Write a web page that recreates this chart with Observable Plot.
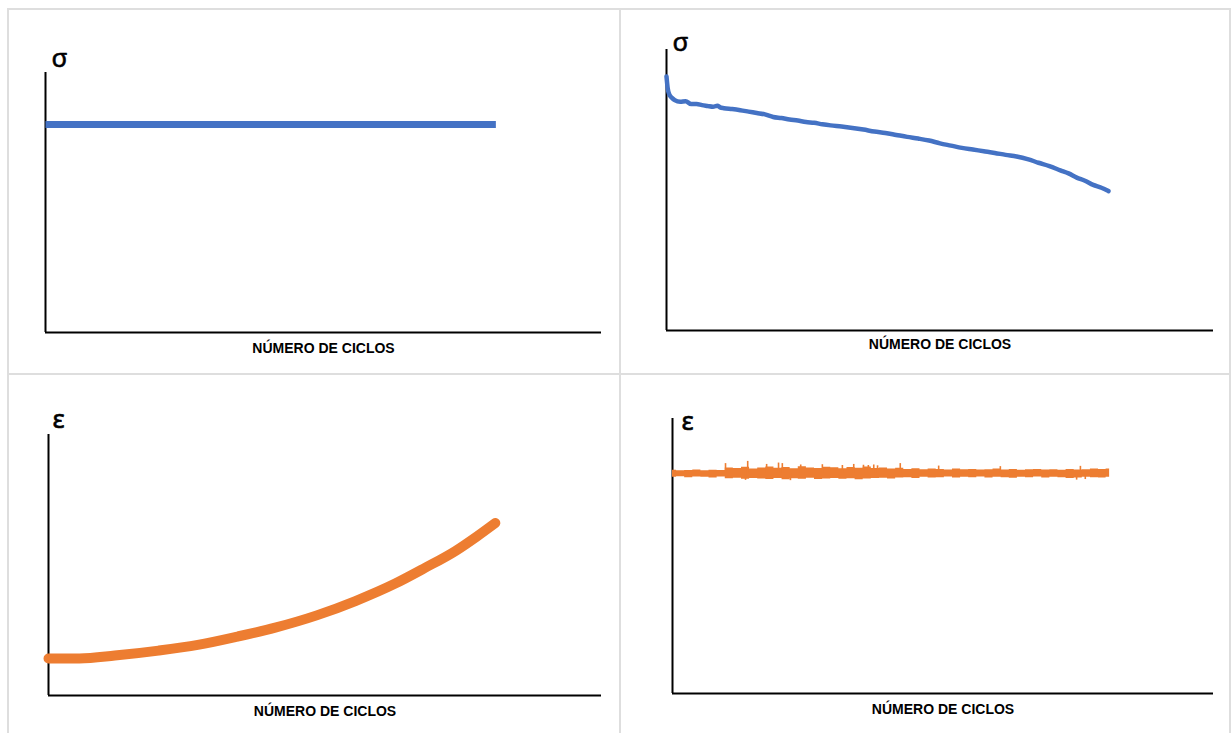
<!DOCTYPE html>
<html>
<head>
<meta charset="utf-8">
<script src="https://cdn.jsdelivr.net/npm/d3@7"></script>
<script src="https://cdn.jsdelivr.net/npm/@observablehq/plot@0.6"></script>
<style>
  html, body { margin: 0; padding: 0; background: #fff; }
  #wrap { position: relative; width: 1232px; height: 733px; overflow: hidden; background: #fff; }
  .cell { position: absolute; }
  .rule { position: absolute; background: #dedede; }
</style>
</head>
<body>
<div id="wrap"></div>
<script>
// ---------- data ----------
const xLabel = "NÚMERO DE CICLOS";
const sigmaSymbol = "σ";
const epsSymbol = "ε";

// Panel 1: constant stress (stress-controlled test)
const p1Cycles = [0, 81];
const p1Stress = [80, 80];

// Panel 2: decreasing stress (strain-controlled test)
const p2Cycles = [0, 0.2, 0.5, 1, 1.5, 2.5, 3.5, 4.5, 5.5, 6.5, 7.5, 8.5, 9.3, 9.8, 10.5, 12, 13.5, 15, 16.5, 18,
  19.5, 21, 22.5, 24, 25.5, 27, 28.5, 30, 32, 34, 36, 38, 40, 42, 44, 46, 48, 50, 52, 54, 56, 58, 60, 62, 64, 66,
  68, 70, 72, 73.5, 75, 76.5, 78, 79.5, 80.8];
const p2Stress = [90.4, 86.5, 84.0, 82.8, 82.0, 81.4, 81.6, 80.6, 80.6, 80.2, 79.9, 79.6, 80.0, 79.4, 79.1, 78.8, 78.4, 77.9, 77.4, 76.9,
  76.0, 75.6, 75.1, 74.7, 74.2, 73.9, 73.4, 73.0, 72.6, 72.1, 71.5, 70.8, 70.3, 69.6, 68.9, 68.3, 67.6, 66.6, 65.8, 65.0, 64.4, 63.8, 63.2, 62.5, 61.9, 61.0,
  59.7, 58.5, 57.0, 55.9, 54.4, 53.3, 51.8, 50.8, 49.6];

// Panel 3: increasing strain (stress-controlled test)
const p3Cycles = [0, 5.6, 12, 19.9, 27, 34.2, 41, 48.5, 55.5, 62.7, 68, 73.6, 77.5, 80.8];
const p3Strain = [14.2, 14.2, 15.3, 17.2, 19.4, 22.6, 26.0, 30.7, 36.2, 42.9, 48.8, 55.4, 61.0, 66.1];

// Panel 4: constant noisy strain (strain-controlled test): signal band (low/high) per cycle bin
const p4Cycles = [0, 1.5, 3, 4.5, 6, 7.5, 9, 10.5, 12, 13.5, 15, 16.5, 18, 19.5, 21, 22.5, 24, 25.5, 27, 28.5,
  30, 31.5, 33, 34.5, 36, 37.5, 39, 40.5, 42, 43.5, 45, 46.5, 48, 49.5, 51, 52.5, 54, 55.5, 57, 58.5,
  60, 61.5, 63, 64.5, 66, 67.5, 69, 70.5, 72, 73.5, 75, 76.5, 78, 79.5, 80.8];
const p4High = [81.2, 81.0, 81.1, 81.3, 81.0, 81.2, 81.1, 82.0, 81.8, 82.3, 81.6, 82.0, 82.4, 81.9, 82.2, 81.7, 82.5, 82.0, 81.8, 82.3,
  82.1, 81.7, 82.2, 81.9, 82.4, 81.8, 82.0, 81.6, 81.9, 81.5, 81.7, 81.4, 81.6, 81.5, 81.3, 81.6, 81.4, 81.5, 81.3, 81.4,
  81.6, 81.3, 81.5, 81.2, 81.4, 81.5, 81.3, 81.4, 81.2, 81.5, 81.3, 81.4, 81.6, 81.5, 81.6];
const p4Low = [78.6, 78.8, 78.5, 78.7, 78.6, 78.4, 78.7, 78.1, 78.3, 77.9, 78.2, 78.0, 77.8, 78.2, 77.7, 78.1, 77.9, 78.3, 77.8, 78.0,
  78.2, 77.9, 78.1, 77.7, 78.0, 78.2, 78.3, 78.0, 78.4, 78.5, 78.2, 78.6, 78.4, 78.5, 78.7, 78.4, 78.6, 78.5, 78.7, 78.4,
  78.6, 78.5, 78.3, 78.6, 78.5, 78.7, 78.4, 78.6, 78.5, 78.2, 78.4, 78.6, 78.5, 78.4, 78.6];
// Panel 4: isolated noise spikes
const p4SpikeCycles = [9.8, 13.5, 13.9, 17.4, 19.6, 20.3, 21.8, 23.7, 27.7, 31.4, 33.5, 35.3, 36.2, 37.2, 37.9, 42.1, 49.2, 60.6, 74.7, 75.4, 76.3];
const p4SpikeLow  = [80.0, 77.5, 80.0, 80.0, 80.0, 80.0, 77.4, 80.0, 80.0, 80.0, 80.0, 80.0, 80.0, 80.0, 80.0, 80.0, 80.0, 80.0, 77.6, 80.0, 77.8];
const p4SpikeHigh = [83.6, 80.0, 84.4, 83.3, 83.8, 83.6, 80.0, 83.1, 83.2, 82.9, 83.3, 83.0, 82.9, 83.1, 82.8, 83.6, 82.7, 82.5, 80.0, 82.6, 80.0];

// ---------- drawing ----------
const BLUE = "#4472C4", ORANGE = "#ED7D31";
const wrap = document.getElementById("wrap");

function rule(l, t, w, h) {
  const d = document.createElement("div");
  d.className = "rule";
  Object.assign(d.style, {left: l + "px", top: t + "px", width: w + "px", height: h + "px"});
  wrap.appendChild(d);
}

function panel(cfg) {
  const {left, top, width, height, m, xDomain, symbol, sdx, sdy, ldy, dataMarks} = cfg;
  const chart = Plot.plot({
    width, height,
    marginLeft: m[0], marginRight: m[1], marginTop: m[2], marginBottom: m[3],
    x: {domain: xDomain, axis: null},
    y: {domain: [0, 100], axis: null},
    style: {background: "transparent", overflow: "visible"},
    marks: [
      Plot.ruleX([0], {stroke: "#000", strokeWidth: 2}),
      Plot.ruleY([0], {stroke: "#000", strokeWidth: 2}),
      ...dataMarks,
      Plot.text([symbol], {text: d => d, frameAnchor: "top-left", textAnchor: "start", lineAnchor: "bottom",
        dx: sdx, dy: sdy, fontSize: 26, fontFamily: "Noto Sans, DejaVu Sans, sans-serif", fill: "#000",
        stroke: "#000", strokeWidth: 0.6}),
      Plot.text([xLabel], {text: d => d, frameAnchor: "bottom", textAnchor: "middle", lineAnchor: "bottom",
        dy: ldy, fontSize: 14, fontWeight: "bold", fontFamily: "Liberation Sans, Arial, sans-serif", fill: "#000"})
    ]
  });
  const cell = document.createElement("div");
  cell.className = "cell";
  cell.style.left = left + "px";
  cell.style.top = top + "px";
  cell.appendChild(chart);
  wrap.appendChild(cell);
}

panel({
  left: 0, top: 0, width: 620, height: 374, m: [45, 19, 72, 42], xDomain: [0, 100],
  symbol: sigmaSymbol, sdx: 6, sdy: -6, ldy: 20,
  dataMarks: [Plot.line(p1Cycles.map((c, i) => ({c, v: p1Stress[i]})),
    {x: "c", y: "v", stroke: BLUE, strokeWidth: 7, strokeLinecap: "butt"})]
});

panel({
  left: 620, top: 0, width: 612, height: 374, m: [46, 19, 49, 44], xDomain: [0, 100],
  symbol: sigmaSymbol, sdx: 6, sdy: 1, ldy: 18,
  dataMarks: [Plot.line(p2Cycles.map((c, i) => ({c, v: p2Stress[i]})),
    {x: "c", y: "v", stroke: BLUE, strokeWidth: 4.5, strokeLinejoin: "round", curve: "monotone-x"})]
});

panel({
  left: 0, top: 374, width: 620, height: 359, m: [48, 19, 60, 38], xDomain: [0, 100],
  symbol: epsSymbol, sdx: 4, sdy: -7, ldy: 20,
  dataMarks: [Plot.line(p3Cycles.map((c, i) => ({c, v: p3Strain[i]})),
    {x: "c", y: "v", stroke: ORANGE, strokeWidth: 10, strokeLinecap: "round", curve: "monotone-x"})]
});

const p4Band = p4Cycles.map((c, i) => ({c, lo: p4Low[i], hi: p4High[i]}));
const p4Spikes = p4SpikeCycles.map((c, i) => ({c, lo: p4SpikeLow[i], hi: p4SpikeHigh[i]}));
panel({
  left: 620, top: 374, width: 612, height: 359, m: [52, 19, 44, 40], xDomain: [0, 100],
  symbol: epsSymbol, sdx: 9, sdy: 11, ldy: 20,
  dataMarks: [
    Plot.areaY(p4Band, {x: "c", y1: "lo", y2: "hi", fill: ORANGE, curve: "step"}),
    Plot.ruleX(p4Spikes, {x: "c", y1: "lo", y2: "hi", stroke: ORANGE, strokeWidth: 1.6})
  ]
});

// table-like cell borders
rule(8, 8, 1223, 2);
rule(7, 8, 2, 725);
rule(1229, 8, 2, 725);
rule(619, 8, 2, 725);
rule(8, 373, 1222, 2);
</script>
</body>
</html>
